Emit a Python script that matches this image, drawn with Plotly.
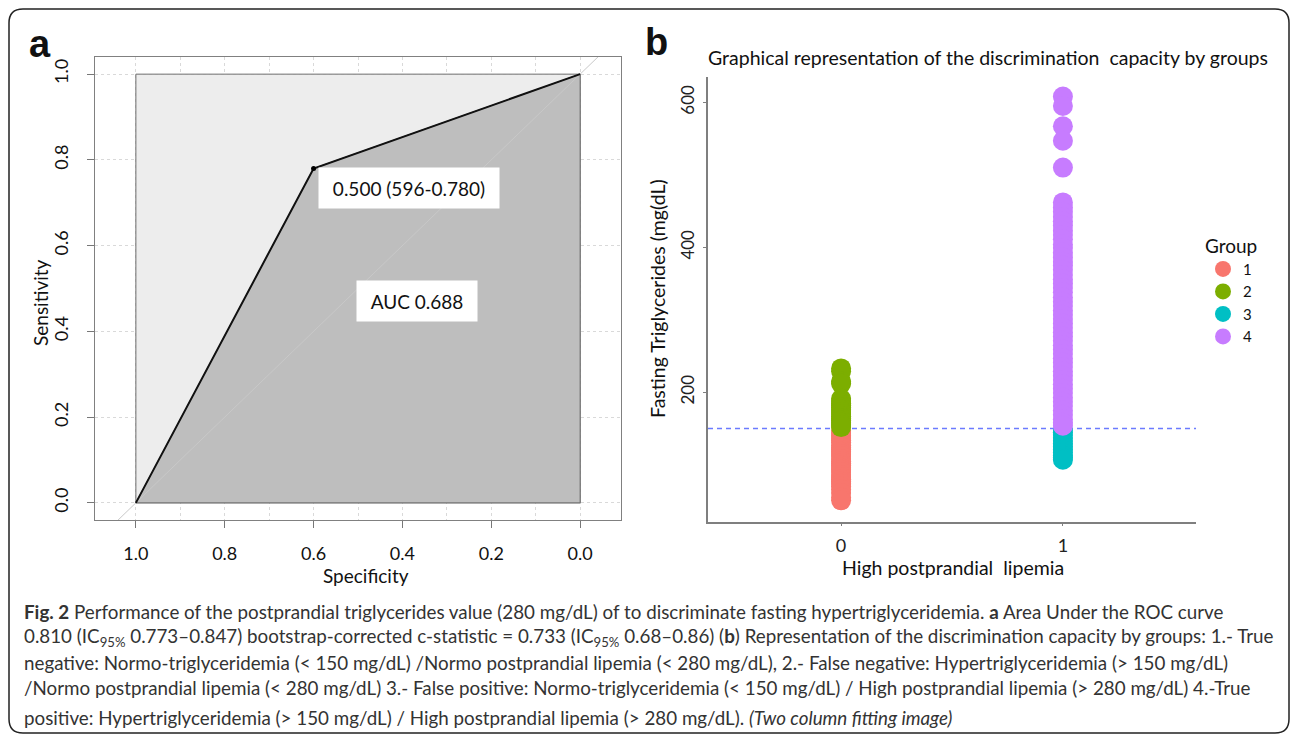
import plotly.graph_objects as go

W, H = 1292, 736

# ---------------- data ----------------
# Panel a: ROC curve (specificity, sensitivity)
specificity = [1.0, 0.6, 0.0]
sensitivity = [0.0, 0.78, 1.0]
threshold_label = "0.500 (596-0.780)"
auc_label = "AUC 0.688"
spec_ticks = [1.0, 0.8, 0.6, 0.4, 0.2, 0.0]
sens_ticks = [0.0, 0.2, 0.4, 0.6, 0.8, 1.0]

# Panel b: fasting triglycerides by group
group_names = ["1", "2", "3", "4"]
group_colors = ["#F8766D", "#7CAE00", "#00BFC4", "#C77CFF"]
group_x = [0, 0, 1, 1]
g1 = [147, 144, 140, 137, 134, 131, 127, 124, 121, 118, 115, 112, 108, 105, 102,
      99, 96, 93, 90, 86, 83, 80, 77, 74, 70, 66, 61, 55, 51]
g2 = [233, 229, 215, 212, 191, 188, 185, 182, 179, 176, 173, 170, 167, 164, 161,
      158, 155, 152]
g3 = [148, 145, 141, 137, 133, 129, 125, 121, 117, 113, 110, 107]
g4 = [608, 595, 567, 547, 510, 462, 455, 449, 442, 436, 430, 423, 417, 411, 404,
      399, 393, 386, 380, 375, 369, 362, 356, 350, 344, 338, 331, 325, 319, 313,
      307, 301, 295, 289, 283, 277, 271, 265, 259, 253, 247, 241, 235, 229, 223,
      217, 211, 205, 199, 193, 187, 181, 175, 169, 163, 158, 154]
group_values = [g1, g2, g3, g4]
cutoff = 150
tg_ticks = [200, 400, 600]

# ---------------- figure ----------------
fig = go.Figure()

def px(x):
    return x / W

def py(y):
    return 1 - y / H

# Panel a
fig.add_trace(go.Scatter(x=[1, 0, 0, 1, 1], y=[0, 0, 1, 1, 0], mode="lines",
                         fill="toself", fillcolor="#EDEDED",
                         line=dict(color="#6E6E6E", width=1),
                         xaxis="x", yaxis="y", showlegend=False, hoverinfo="skip"))
fig.add_trace(go.Scatter(x=specificity + [0, 1], y=sensitivity + [0, 0], mode="lines",
                         fill="toself", fillcolor="#BEBEBE",
                         line=dict(color="#6E6E6E", width=1),
                         xaxis="x", yaxis="y", showlegend=False, hoverinfo="skip"))
fig.add_trace(go.Scatter(x=[1.2, -0.2], y=[-0.2, 1.2], mode="lines",
                         line=dict(color="#C8C8C8", width=1),
                         xaxis="x", yaxis="y", showlegend=False, hoverinfo="skip"))
fig.add_trace(go.Scatter(x=specificity, y=sensitivity, mode="lines",
                         line=dict(color="#111111", width=2),
                         xaxis="x", yaxis="y", showlegend=False))
fig.add_trace(go.Scatter(x=[specificity[1]], y=[sensitivity[1]], mode="markers",
                         marker=dict(color="#000000", size=5),
                         xaxis="x", yaxis="y", showlegend=False))

# Panel b
for name, col, xv, vals in zip(group_names, group_colors, group_x, group_values):
    fig.add_trace(go.Scatter(x=[xv] * len(vals), y=vals, mode="markers", name=name,
                             marker=dict(color=col, size=20, line=dict(width=0)),
                             xaxis="x2", yaxis="y2"))

fig.add_shape(type="line", xref="x2 domain", x0=0, x1=1, yref="y2", y0=cutoff, y1=cutoff,
              line=dict(color="#6B7BFF", width=1.5, dash="5px,4px"), layer="below")

font_main = "Lato, 'Open Sans', sans-serif"

fig.update_layout(
    width=W, height=H, autosize=False, template="none",
    margin=dict(l=0, r=0, t=0, b=0),
    paper_bgcolor="white", plot_bgcolor="white",
    font=dict(family=font_main, size=16, color="#111"),
    xaxis=dict(domain=[px(95), px(621)], range=[1.092, -0.092], anchor="y",
               tickvals=spec_ticks, tickformat=".1f", ticks="outside", ticklen=7,
               tickcolor="#777", tickwidth=1, showline=True, mirror=True,
               linecolor="#808080", linewidth=1, zeroline=False,
               showgrid=True, gridcolor="#D9D9D9", griddash="dot", gridwidth=1,
               minor=dict(dtick=0.1, showgrid=True, gridcolor="#D9D9D9", griddash="dot"),
               tickfont=dict(size=18, color="#111"), ticklabelstandoff=10),
    yaxis=dict(domain=[py(520), py(57)], range=[-0.04, 1.04], anchor="x",
               tickvals=sens_ticks, tickformat=".1f", ticks="outside", ticklen=7,
               tickcolor="#777", tickwidth=1, showline=True, mirror=True,
               linecolor="#808080", linewidth=1, zeroline=False,
               showgrid=True, gridcolor="#D9D9D9", griddash="dot", gridwidth=1,
               tickangle=-90, tickfont=dict(size=18, color="#111"), ticklabelstandoff=12),
    xaxis2=dict(domain=[px(708), px(1196)], range=[-0.6, 1.6], anchor="y2",
                tickvals=[0, 1], ticks="outside", ticklen=3, tickcolor="#7F7F7F",
                showline=True, linecolor="#7F7F7F", linewidth=1.5, mirror=False,
                showgrid=False, zeroline=False, tickfont=dict(size=18, color="#222"),
                ticklabelstandoff=4),
    yaxis2=dict(domain=[py(521.7), py(77)], range=[21.5, 635], anchor="x2",
                tickvals=tg_ticks, ticks="outside", ticklen=3, tickcolor="#7F7F7F",
                showline=True, linecolor="#7F7F7F", linewidth=1.5, mirror=False,
                showgrid=False, zeroline=False, tickangle=-90,
                tickfont=dict(size=17, color="#222"), ticklabelstandoff=2),
    legend=dict(x=px(1203), y=py(228), xanchor="left", yanchor="top",
                title=dict(text="Group", font=dict(size=19, color="#111")),
                font=dict(size=15, color="#111"), bgcolor="rgba(0,0,0,0)",
                itemsizing="trace", tracegroupgap=0),
)

ann = []
def A(text, x, y, **kw):
    d = dict(text=text, x=px(x), y=py(y), xref="paper", yref="paper",
             showarrow=False, xanchor="center", yanchor="middle")
    d.update(kw)
    ann.append(d)

letter_font = dict(size=38, family="Arial, 'Liberation Sans', sans-serif", color="#111")
# panel letters
A("<b>a</b>", 40, 44, font=letter_font)
A("<b>b</b>", 656, 42, font=letter_font)
# axis titles
A("Sensitivity", 40, 303, textangle=-90, font=dict(size=19))
A("Specificity", 366, 575, font=dict(size=19))
A("Fasting Triglycerides (mg(dL)", 657, 299, textangle=-90, font=dict(size=19.5))
A("High postprandial  lipemia", 953, 567, font=dict(size=19.5))
A("Graphical representation of the discrimination  capacity by groups", 706, 58,
  xanchor="left", font=dict(size=19.5))

# panel a labels (data coordinates)
ann.append(dict(text=threshold_label, x=0.386, y=0.734, xref="x", yref="y",
                showarrow=False, bgcolor="white", width=178, height=38,
                font=dict(size=19, color="#111")))
ann.append(dict(text=auc_label, x=0.367, y=0.471, xref="x", yref="y",
                showarrow=False, bgcolor="white", width=118, height=38,
                font=dict(size=19, color="#111")))

# caption
cap_font = dict(size=18.8, color="#333", family="Lato, sans-serif")
caption_lines = [
    "<b>Fig. 2</b> Performance of the postprandial triglycerides value (280 mg/dL) of to discriminate fasting hypertriglyceridemia. <b>a</b> Area Under the ROC curve",
    "0.810 (IC<sub>95%</sub> 0.773–0.847) bootstrap-corrected c-statistic = 0.733 (IC<sub>95%</sub> 0.68–0.86) (<b>b</b>) Representation of the discrimination capacity by groups: 1.- True",
    "negative: Normo-triglyceridemia (&lt; 150 mg/dL) /Normo postprandial lipemia (&lt; 280 mg/dL), 2.- False negative: Hypertriglyceridemia (&gt; 150 mg/dL)",
    "/Normo postprandial lipemia (&lt; 280 mg/dL) 3.- False positive: Normo-triglyceridemia (&lt; 150 mg/dL) / High postprandial lipemia (&gt; 280 mg/dL) 4.-True",
    "positive: Hypertriglyceridemia (&gt; 150 mg/dL) / High postprandial lipemia (&gt; 280 mg/dL). <i>(Two column fitting image)</i>",
]
caption_y = [611, 637, 662, 687, 717]
for line, yc in zip(caption_lines, caption_y):
    A(line, 22, yc, xanchor="left", yanchor="middle", font=cap_font)

fig.update_layout(annotations=ann)

# rounded outer frame
x0, x1, y0, y1 = px(9), px(1289), py(733), py(9)
rx, ry = 14 / W, 14 / H
path = (f"M {x0+rx},{y1} L {x1-rx},{y1} Q {x1},{y1} {x1},{y1-ry} "
        f"L {x1},{y0+ry} Q {x1},{y0} {x1-rx},{y0} L {x0+rx},{y0} "
        f"Q {x0},{y0} {x0},{y0+ry} L {x0},{y1-ry} Q {x0},{y1} {x0+rx},{y1} Z")
fig.add_shape(type="path", path=path, xref="paper", yref="paper",
              line=dict(color="#222", width=1.5), layer="above")

fig.write_html("out.html", config={"displayModeBar": False},
               post_script="document.body.style.margin='0';document.body.style.overflow='hidden';")
